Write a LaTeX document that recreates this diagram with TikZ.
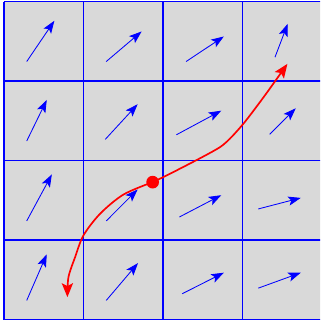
\documentclass[tikz,border=0pt]{standalone}
\usetikzlibrary{arrows.meta}
\definecolor{cellgray}{HTML}{D9D9D9}

\begin{document}
\begin{tikzpicture}[scale=2]
\clip (-0.05,-0.031) rectangle (3.975,4.019);
\fill[cellgray] (0,0) rectangle (4,4);
\draw[blue,line width=0.9pt] (0,0) grid (4,4);
\foreach \xa/\ya/\xb/\yb in {
  0.286/3.245/0.634/3.758, 1.286/3.245/1.731/3.623, 2.291/3.245/2.765/3.560, 3.409/3.300/3.569/3.720,
  0.286/2.245/0.538/2.762, 1.274/2.266/1.681/2.708, 2.169/2.324/2.733/2.627, 3.342/2.329/3.670/2.657,
  0.286/1.240/0.602/1.825, 1.286/1.240/1.681/1.636, 2.207/1.290/2.733/1.564, 3.199/1.391/3.733/1.530,
  0.286/0.240/0.538/0.820, 1.286/0.240/1.686/0.710, 2.241/0.324/2.765/0.589, 3.199/0.395/3.733/0.589}
  \draw[blue,line width=0.6pt,-{Stealth[length=9pt,width=6.5pt,inset=2pt]}] (\xa,\ya)--(\xb,\yb);
\coordinate (start) at (1.870,1.728);
\draw[red,line width=1.2pt,-{Stealth[length=10pt,width=8pt,inset=2pt]}]
  plot[smooth,tension=0.4] coordinates {(start) (2.135,1.857) (2.724,2.173) (2.997,2.446) (3.270,2.803) (3.565,3.216)};
\draw[red,line width=1.2pt,-{Stealth[length=10pt,width=8pt,inset=2pt]}]
  plot[smooth,tension=0.5] coordinates {(start) (1.504,1.573) (1.211,1.333) (1.0,1.059) (0.895,0.786) (0.811,0.533) (0.798,0.281)};
\fill[red] (start) circle (0.08);
\end{tikzpicture}
\end{document}
